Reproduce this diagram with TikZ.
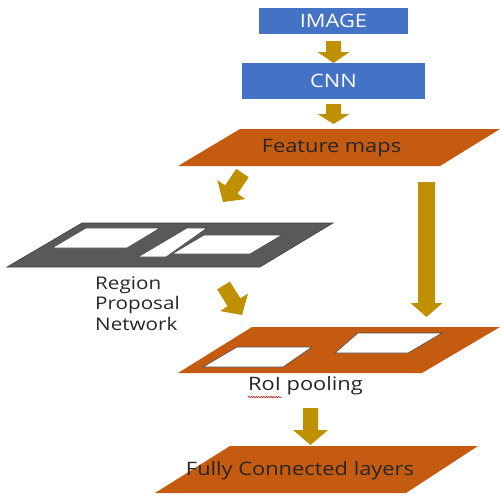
\documentclass[tikz,border=0pt]{standalone}
\usepackage{fontspec}
\setmainfont{Open Sans}[FakeStretch=1.18]
\usetikzlibrary{calc,decorations.pathmorphing}
\definecolor{boxblue}{HTML}{4472C4}
\definecolor{maporange}{HTML}{C55A11}
\definecolor{arrowgold}{HTML}{BF9000}
\definecolor{rpngray}{HTML}{595959}
\newcommand\garrow[5]{%
  \coordinate (#1-#2-h) at ($(#2)!#5!(#1)$);
  \fill[arrowgold] ($(#1)!#3!90:(#2)$) -- ($(#1-#2-h)!#3!90:(#2)$) -- ($(#1-#2-h)!#4!90:(#2)$) -- (#2)
    -- ($(#1-#2-h)!#4!-90:(#2)$) -- ($(#1-#2-h)!#3!-90:(#2)$) -- ($(#1)!#3!-90:(#2)$) -- cycle;}
\tikzset{
  bluebox/.style={fill=boxblue, text=white, inner sep=0pt, font=\fontsize{18.5}{22}\selectfont},
  maptext/.style={text=black!85, inner sep=0pt, font=\fontsize{18.5}{22}\selectfont},
  labeltext/.style={text=black!85, inner sep=0pt, anchor=base west, font=\fontsize{17.5}{20.5}\selectfont},
  hole/.style={fill=white, draw=black!70, line width=0.6pt},
}
\begin{document}
\begin{tikzpicture}[x=1pt,y=-1pt]
\useasboundingbox (0,0) rectangle (500,496);
% blue boxes
\node[bluebox, minimum width=149pt, minimum height=26pt] (image) at (333.5,21) {IMAGE};
\node[bluebox, minimum width=183pt, minimum height=36pt] (cnn) at (333.5,81) {CNN};
% feature maps
\fill[maporange] (240,129) -- (500,129) -- (440,166) -- (178,166) -- cycle;
\node[maptext] (fmap) at (331.5,148) {Feature maps};
% RPN
\fill[rpngray, draw=black!75, line width=0.6pt] (82,223) -- (333,223) -- (260,267) -- (7,267) -- cycle;
\path[hole] (86,228) -- (160,228) -- (127,248) -- (52,248) -- cycle;
\path[hole] (187,228) -- (207,228) -- (166,257) -- (138,257) -- cycle;
\path[hole] (204,235) -- (282,235) -- (250,254) -- (172,254) -- cycle;
\node[labeltext] (rpn1) at (95,289) {Region};
\node[labeltext] (rpn2) at (95,309.5) {Proposal};
\node[labeltext] (rpn3) at (95,330) {Network};
% RoI pooling
\fill[maporange] (252,327) -- (500,327) -- (422,373) -- (178,373) -- cycle;
\path[hole] (237,347) -- (312,347) -- (283,367) -- (203,367) -- cycle;
\path[hole] (358,333) -- (442,333) -- (408,353) -- (335,353) -- cycle;
\node[maptext] (roi) at (305.5,386) {RoI pooling};
\draw[red!80!black, line width=0.5pt, decorate, decoration={snake, amplitude=0.7pt, segment length=2.5pt}] (248,397) -- (282,397);
% FC
\fill[maporange] (230,446) -- (478,446) -- (406,493) -- (155,493) -- cycle;
\node[maptext] (fc) at (300,471) {Fully Connected layers};
% arrows
\coordinate (a1s) at (333.5,41); \coordinate (a1e) at (333.5,63);
\garrow{a1s}{a1e}{7.5pt}{16pt}{11pt}
\coordinate (a2s) at (333.5,104); \coordinate (a2e) at (333.5,124);
\garrow{a2s}{a2e}{7.5pt}{16pt}{10pt}
\coordinate (a3s) at (242.5,173); \coordinate (a3e) at (223,202);
\garrow{a3s}{a3e}{7.5pt}{17pt}{15pt}
\coordinate (a4s) at (426.5,182); \coordinate (a4e) at (426.5,317);
\garrow{a4s}{a4e}{8.5pt}{16pt}{14pt}
\coordinate (a5s) at (223.5,285.5); \coordinate (a5e) at (242,315);
\garrow{a5s}{a5e}{7.5pt}{16.5pt}{15pt}
\coordinate (a6s) at (310.5,408); \coordinate (a6e) at (310.5,445);
\garrow{a6s}{a6e}{7.5pt}{17.5pt}{15pt}
\end{tikzpicture}
\end{document}
